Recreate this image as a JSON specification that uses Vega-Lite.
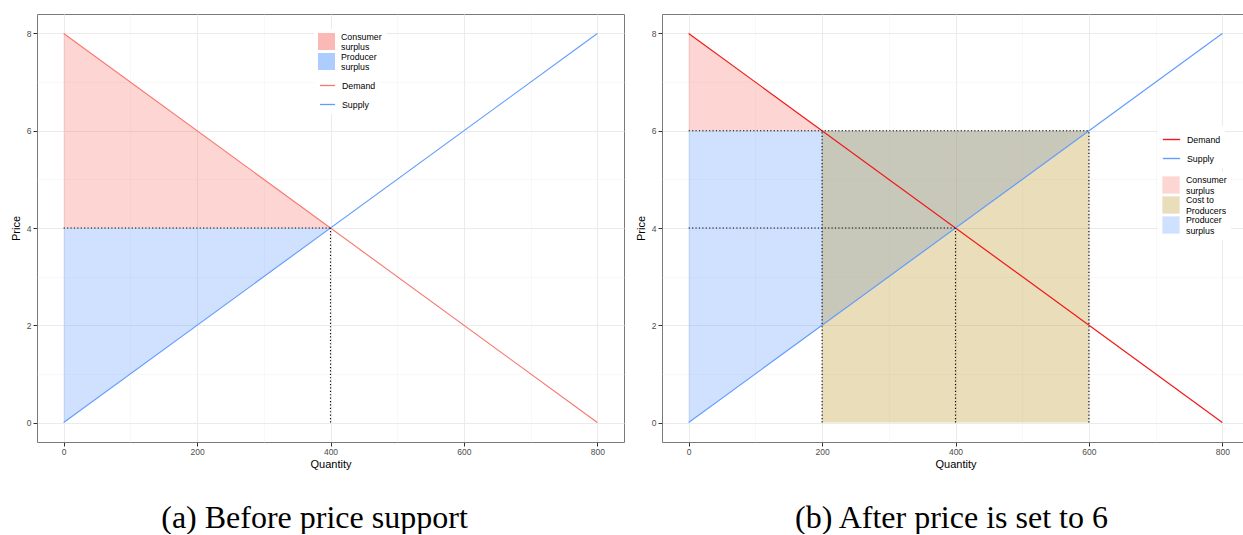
{
  "$schema": "https://vega.github.io/schema/vega-lite/v6.json",
  "background": "white",
  "padding": {"left": 9, "top": 13, "right": 0, "bottom": 0},
  "spacing": 9,
  "config": {
    "font": "Liberation Sans",
    "view": {"stroke": "#7a7a7a", "strokeWidth": 1},
    "axis": {
      "labelFont": "Liberation Sans", "labelFontSize": 8.5, "labelColor": "#4d4d4d",
      "tickColor": "#333333", "tickSize": 4, "tickWidth": 1, "domain": false,
      "titleFont": "Liberation Sans", "titleFontSize": 11, "titleFontWeight": "normal", "titleColor": "black",
      "labelPadding": 2, "labelOverlap": false
    },
    "legend": {
      "labelFont": "Liberation Sans", "labelFontSize": 8.8, "labelColor": "black",
      "fillColor": "white", "padding": 4, "labelOffset": 6, "title": null
    },
    "title": {
      "font": "Liberation Serif", "fontSize": 32, "fontWeight": "normal", "color": "black",
      "orient": "bottom", "anchor": "middle", "offset": 33
    }
  },
  "resolve": {"scale": {"x": "independent", "y": "independent", "fill": "independent", "stroke": "independent"}},
  "hconcat": [
    {
      "width": 587, "height": 428,
      "title": {"text": "(a) Before price support", "dx": -16},
      "layer": [
        {
          "data": {"values": [
            {"region": "Consumer surplus", "q": 0, "p": 8, "p2": 4},
            {"region": "Consumer surplus", "q": 400, "p": 4, "p2": 4},
            {"region": "Producer surplus", "q": 0, "p": 4, "p2": 0},
            {"region": "Producer surplus", "q": 400, "p": 4, "p2": 4}
          ]},
          "mark": {"type": "area", "opacity": 0.3, "orient": "vertical"},
          "encoding": {
            "x": {"field": "q", "type": "quantitative",
              "scale": {"domain": [-40, 840], "nice": false, "zero": false},
              "axis": {"title": "Quantity", "values": [0, 100, 200, 300, 400, 500, 600, 700, 800],
                "labelExpr": "datum.value % 200 === 0 ? datum.label : ''",
                "tickOpacity": {"condition": {"test": "datum.value % 200 !== 0", "value": 0}, "value": 1},
                "gridColor": {"condition": {"test": "datum.value % 200 === 0", "value": "#EBEBEB"}, "value": "#F3F3F3"},
                "gridWidth": {"condition": {"test": "datum.value % 200 === 0", "value": 1.1}, "value": 0.6},
                "labelPadding": 1, "titlePadding": 3}},
            "y": {"field": "p", "type": "quantitative",
              "scale": {"domain": [-0.4, 8.4], "nice": false, "zero": false},
              "axis": {"title": "Price", "values": [0, 1, 2, 3, 4, 5, 6, 7, 8],
                "labelExpr": "datum.value % 2 === 0 ? datum.label : ''",
                "tickOpacity": {"condition": {"test": "datum.value % 2 !== 0", "value": 0}, "value": 1},
                "gridColor": {"condition": {"test": "datum.value % 2 === 0", "value": "#EBEBEB"}, "value": "#F3F3F3"},
                "gridWidth": {"condition": {"test": "datum.value % 2 === 0", "value": 1.1}, "value": 0.6},
                "titlePadding": 5}},
            "y2": {"field": "p2"},
            "fill": {"field": "region", "type": "nominal",
              "scale": {"domain": ["Consumer surplus", "Producer surplus"], "range": ["#F8766D", "#619CFF"]},
              "legend": {"orient": "none", "legendX": 277, "legendY": 15, "symbolType": "square", "symbolSize": 289,
                "symbolOpacity": 0.51, "symbolStrokeWidth": 0, "rowPadding": -7,
                "labelExpr": "split(datum.label, ' ')", "labelBaseline": "bottom"}}
          }
        },
        {
          "data": {"values": [
            {"series": "Demand", "q": 0, "p": 8},
            {"series": "Demand", "q": 800, "p": 0},
            {"series": "Supply", "q": 0, "p": 0},
            {"series": "Supply", "q": 800, "p": 8}
          ]},
          "mark": {"type": "line", "strokeWidth": 1.1},
          "encoding": {
            "x": {"field": "q", "type": "quantitative"},
            "y": {"field": "p", "type": "quantitative"},
            "stroke": {"field": "series", "type": "nominal",
              "scale": {"domain": ["Demand", "Supply"], "range": ["#F8766D", "#619CFF"]},
              "legend": {"orient": "none", "legendX": 278, "legendY": 59, "symbolType": "stroke", "symbolSize": 225,
                "symbolStrokeWidth": 1.3, "rowPadding": 5}}
          }
        },
        {
          "data": {"values": [
            {"q": 0, "q2": 400, "p": 4, "p2": 4},
            {"q": 400, "q2": 400, "p": 0, "p2": 4}
          ]},
          "mark": {"type": "rule", "color": "black", "strokeDash": [1.2, 2.2], "strokeWidth": 1.1},
          "encoding": {
            "x": {"field": "q", "type": "quantitative"},
            "x2": {"field": "q2"},
            "y": {"field": "p", "type": "quantitative"},
            "y2": {"field": "p2"}
          }
        }
      ]
    },
    {
      "width": 587, "height": 428,
      "title": {"text": "(b) After price is set to 6", "dx": -4},
      "layer": [
        {
          "data": {"values": [
            {"region": "Producer surplus", "q": 0, "p": 6, "p2": 0},
            {"region": "Producer surplus", "q": 600, "p": 6, "p2": 6}
          ]},
          "mark": {"type": "area", "opacity": 0.3, "orient": "vertical"},
          "encoding": {
            "x": {"field": "q", "type": "quantitative",
              "scale": {"domain": [-40, 840], "nice": false, "zero": false},
              "axis": {"title": "Quantity", "values": [0, 100, 200, 300, 400, 500, 600, 700, 800],
                "labelExpr": "datum.value % 200 === 0 ? datum.label : ''",
                "tickOpacity": {"condition": {"test": "datum.value % 200 !== 0", "value": 0}, "value": 1},
                "gridColor": {"condition": {"test": "datum.value % 200 === 0", "value": "#EBEBEB"}, "value": "#F3F3F3"},
                "gridWidth": {"condition": {"test": "datum.value % 200 === 0", "value": 1.1}, "value": 0.6},
                "labelPadding": 1, "titlePadding": 3}},
            "y": {"field": "p", "type": "quantitative",
              "scale": {"domain": [-0.4, 8.4], "nice": false, "zero": false},
              "axis": {"title": "Price", "values": [0, 1, 2, 3, 4, 5, 6, 7, 8],
                "labelExpr": "datum.value % 2 === 0 ? datum.label : ''",
                "tickOpacity": {"condition": {"test": "datum.value % 2 !== 0", "value": 0}, "value": 1},
                "gridColor": {"condition": {"test": "datum.value % 2 === 0", "value": "#EBEBEB"}, "value": "#F3F3F3"},
                "gridWidth": {"condition": {"test": "datum.value % 2 === 0", "value": 1.1}, "value": 0.6},
                "titlePadding": 5}},
            "y2": {"field": "p2"},
            "fill": {"field": "region", "type": "nominal",
              "scale": {"domain": ["Consumer surplus", "Cost to Producers", "Producer surplus"], "range": ["#F8766D", "#B98F1A", "#619CFF"]},
              "legend": {"orient": "none", "legendX": 496, "legendY": 158, "symbolType": "square", "symbolSize": 300,
                "symbolOpacity": 0.66, "symbolStrokeWidth": 0, "rowPadding": -7,
                "labelExpr": "datum.label === 'Cost to Producers' ? ['Cost to', 'Producers'] : split(datum.label, ' ')", "labelBaseline": "bottom"}}
          }
        },
        {
          "data": {"values": [
            {"region": "Cost to Producers", "q": 200, "p": 6, "p2": 0},
            {"region": "Cost to Producers", "q": 600, "p": 6, "p2": 0}
          ]},
          "mark": {"type": "area", "opacity": 0.3, "orient": "vertical"},
          "encoding": {
            "x": {"field": "q", "type": "quantitative"},
            "y": {"field": "p", "type": "quantitative"},
            "y2": {"field": "p2"},
            "fill": {"field": "region", "type": "nominal"}
          }
        },
        {
          "data": {"values": [
            {"region": "Consumer surplus", "q": 0, "p": 8, "p2": 6},
            {"region": "Consumer surplus", "q": 200, "p": 6, "p2": 6}
          ]},
          "mark": {"type": "area", "opacity": 0.3, "orient": "vertical"},
          "encoding": {
            "x": {"field": "q", "type": "quantitative"},
            "y": {"field": "p", "type": "quantitative"},
            "y2": {"field": "p2"},
            "fill": {"field": "region", "type": "nominal"}
          }
        },
        {
          "data": {"values": [
            {"series": "Demand", "q": 0, "p": 8},
            {"series": "Demand", "q": 800, "p": 0},
            {"series": "Supply", "q": 0, "p": 0},
            {"series": "Supply", "q": 800, "p": 8}
          ]},
          "mark": {"type": "line", "strokeWidth": 1.2},
          "encoding": {
            "x": {"field": "q", "type": "quantitative"},
            "y": {"field": "p", "type": "quantitative"},
            "stroke": {"field": "series", "type": "nominal",
              "scale": {"domain": ["Demand", "Supply"], "range": ["#F01818", "#619CFF"]},
              "legend": {"orient": "none", "legendX": 496, "legendY": 112, "symbolType": "stroke", "symbolSize": 300,
                "symbolStrokeWidth": 1.4, "rowPadding": 4}}
          }
        },
        {
          "data": {"values": [
            {"q": 0, "q2": 600, "p": 6, "p2": 6},
            {"q": 200, "q2": 200, "p": 0, "p2": 6},
            {"q": 600, "q2": 600, "p": 0, "p2": 6},
            {"q": 0, "q2": 400, "p": 4, "p2": 4},
            {"q": 400, "q2": 400, "p": 0, "p2": 4}
          ]},
          "mark": {"type": "rule", "color": "black", "strokeDash": [1.2, 2.2], "strokeWidth": 1.1},
          "encoding": {
            "x": {"field": "q", "type": "quantitative"},
            "x2": {"field": "q2"},
            "y": {"field": "p", "type": "quantitative"},
            "y2": {"field": "p2"}
          }
        }
      ]
    }
  ]
}
